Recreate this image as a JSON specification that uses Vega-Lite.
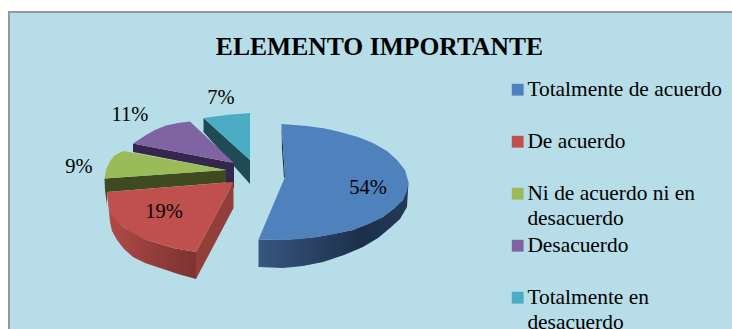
{
  "$schema": "https://vega.github.io/schema/vega-lite/v6.json",
  "width": 732,
  "height": 329,
  "padding": 0,
  "autosize": {"type": "none"},
  "background": "#ffffff",
  "view": {"stroke": null},
  "config": {"font": "Liberation Serif", "style": {"guide-label": {"lineHeight": 25}}},
  "datasets": {
    "panel": [{"x": 9, "x2": 760, "y": 12, "y2": 360}],
    "heading": [{"x": 379.5, "y": 47, "title": "ELEMENTO IMPORTANTE"}],
    "shares": [
      {"name": "Totalmente de acuerdo", "share": 0.54, "x": 368, "y": 188},
      {"name": "De acuerdo", "share": 0.19, "x": 164, "y": 212},
      {"name": "Ni de acuerdo ni en desacuerdo", "share": 0.09, "x": 79, "y": 167},
      {"name": "Desacuerdo", "share": 0.11, "x": 130, "y": 115},
      {"name": "Totalmente en desacuerdo", "share": 0.07, "x": 221, "y": 98}
    ],
    "tops": [
      {"name": "Totalmente de acuerdo", "i": 1, "x": 285, "y": 177},
      {"name": "Totalmente de acuerdo", "i": 2, "x": 281.5, "y": 124},
      {"name": "Totalmente de acuerdo", "i": 3, "x": 307, "y": 126},
      {"name": "Totalmente de acuerdo", "i": 4, "x": 325, "y": 128.5},
      {"name": "Totalmente de acuerdo", "i": 5, "x": 340, "y": 132},
      {"name": "Totalmente de acuerdo", "i": 6, "x": 358, "y": 137},
      {"name": "Totalmente de acuerdo", "i": 7, "x": 373, "y": 143},
      {"name": "Totalmente de acuerdo", "i": 8, "x": 387, "y": 151},
      {"name": "Totalmente de acuerdo", "i": 9, "x": 397, "y": 160},
      {"name": "Totalmente de acuerdo", "i": 10, "x": 405, "y": 170},
      {"name": "Totalmente de acuerdo", "i": 11, "x": 408.5, "y": 182},
      {"name": "Totalmente de acuerdo", "i": 12, "x": 407, "y": 191},
      {"name": "Totalmente de acuerdo", "i": 13, "x": 403, "y": 200},
      {"name": "Totalmente de acuerdo", "i": 14, "x": 394, "y": 209},
      {"name": "Totalmente de acuerdo", "i": 15, "x": 383, "y": 217},
      {"name": "Totalmente de acuerdo", "i": 16, "x": 369, "y": 224},
      {"name": "Totalmente de acuerdo", "i": 17, "x": 353, "y": 230},
      {"name": "Totalmente de acuerdo", "i": 18, "x": 335, "y": 234},
      {"name": "Totalmente de acuerdo", "i": 19, "x": 317, "y": 237},
      {"name": "Totalmente de acuerdo", "i": 20, "x": 300, "y": 239},
      {"name": "Totalmente de acuerdo", "i": 21, "x": 283, "y": 240},
      {"name": "Totalmente de acuerdo", "i": 22, "x": 258.5, "y": 239.5},
      {"name": "De acuerdo", "i": 1, "x": 233.5, "y": 182},
      {"name": "De acuerdo", "i": 2, "x": 107, "y": 192},
      {"name": "De acuerdo", "i": 3, "x": 108, "y": 202},
      {"name": "De acuerdo", "i": 4, "x": 110, "y": 212},
      {"name": "De acuerdo", "i": 5, "x": 116, "y": 220},
      {"name": "De acuerdo", "i": 6, "x": 123, "y": 227},
      {"name": "De acuerdo", "i": 7, "x": 134, "y": 234},
      {"name": "De acuerdo", "i": 8, "x": 147, "y": 240},
      {"name": "De acuerdo", "i": 9, "x": 160, "y": 244},
      {"name": "De acuerdo", "i": 10, "x": 173, "y": 248},
      {"name": "De acuerdo", "i": 11, "x": 196, "y": 252},
      {"name": "Ni de acuerdo ni en desacuerdo", "i": 1, "x": 226, "y": 170},
      {"name": "Ni de acuerdo ni en desacuerdo", "i": 2, "x": 123.5, "y": 151},
      {"name": "Ni de acuerdo ni en desacuerdo", "i": 3, "x": 115, "y": 155},
      {"name": "Ni de acuerdo ni en desacuerdo", "i": 4, "x": 110, "y": 161},
      {"name": "Ni de acuerdo ni en desacuerdo", "i": 5, "x": 106, "y": 170},
      {"name": "Ni de acuerdo ni en desacuerdo", "i": 6, "x": 104.5, "y": 178.5},
      {"name": "Desacuerdo", "i": 1, "x": 234, "y": 163},
      {"name": "Desacuerdo", "i": 2, "x": 190, "y": 121.5},
      {"name": "Desacuerdo", "i": 3, "x": 178, "y": 123},
      {"name": "Desacuerdo", "i": 4, "x": 166, "y": 125.5},
      {"name": "Desacuerdo", "i": 5, "x": 155, "y": 130},
      {"name": "Desacuerdo", "i": 6, "x": 146, "y": 135},
      {"name": "Desacuerdo", "i": 7, "x": 133, "y": 143.5},
      {"name": "Totalmente en desacuerdo", "i": 1, "x": 250, "y": 160},
      {"name": "Totalmente en desacuerdo", "i": 2, "x": 250, "y": 113},
      {"name": "Totalmente en desacuerdo", "i": 3, "x": 238, "y": 114},
      {"name": "Totalmente en desacuerdo", "i": 4, "x": 226, "y": 115},
      {"name": "Totalmente en desacuerdo", "i": 5, "x": 203.5, "y": 118}
    ],
    "walls": [
      {"wall": "cyan", "i": 1, "x": 203.5, "y": 118},
      {"wall": "cyan", "i": 2, "x": 250, "y": 160},
      {"wall": "cyan", "i": 3, "x": 250, "y": 184},
      {"wall": "cyan", "i": 4, "x": 203.5, "y": 132},
      {"wall": "purple", "i": 1, "x": 133, "y": 143.5},
      {"wall": "purple", "i": 2, "x": 234, "y": 163},
      {"wall": "purple", "i": 3, "x": 234, "y": 188},
      {"wall": "purple", "i": 4, "x": 226, "y": 184},
      {"wall": "purple", "i": 5, "x": 226, "y": 170},
      {"wall": "purple", "i": 6, "x": 133, "y": 152},
      {"wall": "green", "i": 1, "x": 104.5, "y": 178.5},
      {"wall": "green", "i": 2, "x": 226, "y": 170},
      {"wall": "green", "i": 3, "x": 226, "y": 182.5},
      {"wall": "green", "i": 4, "x": 107, "y": 192},
      {"wall": "green", "i": 5, "x": 107, "y": 205},
      {"wall": "green", "i": 6, "x": 105, "y": 190},
      {"wall": "redInner", "i": 1, "x": 196, "y": 252},
      {"wall": "redInner", "i": 2, "x": 233.5, "y": 182},
      {"wall": "redInner", "i": 3, "x": 233.5, "y": 208},
      {"wall": "redInner", "i": 4, "x": 196, "y": 279},
      {"wall": "red", "i": 1, "x": 107, "y": 192},
      {"wall": "red", "i": 2, "x": 110, "y": 212},
      {"wall": "red", "i": 3, "x": 123, "y": 227},
      {"wall": "red", "i": 4, "x": 147, "y": 240},
      {"wall": "red", "i": 5, "x": 173, "y": 248},
      {"wall": "red", "i": 6, "x": 196, "y": 252},
      {"wall": "red", "i": 7, "x": 196, "y": 279},
      {"wall": "red", "i": 8, "x": 178, "y": 274},
      {"wall": "red", "i": 9, "x": 160, "y": 268},
      {"wall": "red", "i": 10, "x": 145, "y": 263},
      {"wall": "red", "i": 11, "x": 133, "y": 257},
      {"wall": "red", "i": 12, "x": 124, "y": 249},
      {"wall": "red", "i": 13, "x": 117, "y": 240},
      {"wall": "red", "i": 14, "x": 112, "y": 231},
      {"wall": "red", "i": 15, "x": 110, "y": 222},
      {"wall": "blueInner", "i": 1, "x": 281.5, "y": 124},
      {"wall": "blueInner", "i": 2, "x": 285, "y": 177},
      {"wall": "blueInner", "i": 3, "x": 284, "y": 178},
      {"wall": "blueInner", "i": 4, "x": 282, "y": 150},
      {"wall": "blue", "i": 1, "x": 258.5, "y": 239.5},
      {"wall": "blue", "i": 2, "x": 283, "y": 240},
      {"wall": "blue", "i": 3, "x": 317, "y": 237},
      {"wall": "blue", "i": 4, "x": 353, "y": 230},
      {"wall": "blue", "i": 5, "x": 383, "y": 217},
      {"wall": "blue", "i": 6, "x": 403, "y": 200},
      {"wall": "blue", "i": 7, "x": 408.5, "y": 182},
      {"wall": "blue", "i": 8, "x": 407, "y": 207},
      {"wall": "blue", "i": 9, "x": 400, "y": 219},
      {"wall": "blue", "i": 10, "x": 390, "y": 228},
      {"wall": "blue", "i": 11, "x": 378, "y": 238},
      {"wall": "blue", "i": 12, "x": 363, "y": 247},
      {"wall": "blue", "i": 13, "x": 344, "y": 255},
      {"wall": "blue", "i": 14, "x": 323, "y": 262},
      {"wall": "blue", "i": 15, "x": 303, "y": 266},
      {"wall": "blue", "i": 16, "x": 283, "y": 268},
      {"wall": "blue", "i": 17, "x": 258.5, "y": 267}
    ]
  },
  "encoding": {
    "x": {"field": "x", "type": "quantitative", "axis": null, "scale": {"domain": [0, 732]}},
    "y": {"field": "y", "type": "quantitative", "axis": null, "scale": {"domain": [0, 329], "reverse": true}}
  },
  "layer": [
    {
      "data": {"name": "panel"},
      "mark": {"type": "rect", "fill": "#B7DDE8", "stroke": "#979797", "strokeWidth": 2},
      "encoding": {"x2": {"field": "x2"}, "y2": {"field": "y2"}}
    },
    {
      "data": {"name": "walls"},
      "transform": [{"filter": "datum.wall === 'cyan'"}],
      "mark": {"type": "line", "filled": true, "interpolate": "linear-closed", "fill": "#1F4A56", "strokeWidth": 0},
      "encoding": {"order": {"field": "i"}}
    },
    {
      "data": {"name": "walls"},
      "transform": [{"filter": "datum.wall === 'purple'"}],
      "mark": {"type": "line", "filled": true, "interpolate": "linear-closed", "fill": "#35264B", "strokeWidth": 0},
      "encoding": {"order": {"field": "i"}}
    },
    {
      "data": {"name": "walls"},
      "transform": [{"filter": "datum.wall === 'green'"}],
      "mark": {"type": "line", "filled": true, "interpolate": "linear-closed", "fill": "#404A20", "strokeWidth": 0},
      "encoding": {"order": {"field": "i"}}
    },
    {
      "data": {"name": "walls"},
      "transform": [{"filter": "datum.wall === 'redInner'"}],
      "mark": {"type": "line", "filled": true, "interpolate": "linear-closed", "fill": "#933E3B", "strokeWidth": 0},
      "encoding": {"order": {"field": "i"}}
    },
    {
      "data": {"name": "walls"},
      "transform": [{"filter": "datum.wall === 'red'"}],
      "mark": {
        "type": "line", "filled": true, "interpolate": "linear-closed", "strokeWidth": 0,
        "fill": {"gradient": "linear", "x1": 0, "y1": 0, "x2": 1, "y2": 0, "stops": [
          {"offset": 0, "color": "#B34A47"},
          {"offset": 0.5, "color": "#953E3B"},
          {"offset": 1, "color": "#7D3331"}
        ]}
      },
      "encoding": {"order": {"field": "i"}}
    },
    {
      "data": {"name": "walls"},
      "transform": [{"filter": "datum.wall === 'blueInner'"}],
      "mark": {"type": "line", "filled": true, "interpolate": "linear-closed", "fill": "#1E3350", "strokeWidth": 0},
      "encoding": {"order": {"field": "i"}}
    },
    {
      "data": {"name": "walls"},
      "transform": [{"filter": "datum.wall === 'blue'"}],
      "mark": {
        "type": "line", "filled": true, "interpolate": "linear-closed", "strokeWidth": 0,
        "fill": {"gradient": "linear", "x1": 0, "y1": 0, "x2": 1, "y2": 0, "stops": [
          {"offset": 0, "color": "#37577F"},
          {"offset": 0.35, "color": "#2A4265"},
          {"offset": 0.7, "color": "#1B2F4A"},
          {"offset": 1, "color": "#233A58"}
        ]}
      },
      "encoding": {"order": {"field": "i"}}
    },
    {
      "data": {"name": "tops"},
      "mark": {"type": "line", "filled": true, "interpolate": "linear-closed", "strokeWidth": 0},
      "encoding": {
        "order": {"field": "i"},
        "fill": {
          "field": "name",
          "type": "nominal",
          "scale": {
            "domain": ["Totalmente de acuerdo", "De acuerdo", "Ni de acuerdo ni en desacuerdo", "Desacuerdo", "Totalmente en desacuerdo"],
            "range": ["#4F81BD", "#C0504D", "#9BBB59", "#8064A2", "#4BACC6"]
          },
          "legend": {
            "orient": "none",
            "legendX": 507,
            "legendY": 79,
            "title": null,
            "symbolType": "square",
            "symbolSize": 140,
            "symbolStrokeWidth": 0,
            "symbolOpacity": 1,
            "labelFont": "Liberation Serif",
            "labelFontSize": 21.4,
            "labelColor": "#000000",
            "labelOffset": -1,
            "labelLimit": 260,
            "rowPadding": 4,
            "labelExpr": "datum.label === 'Ni de acuerdo ni en desacuerdo' ? ['Ni de acuerdo ni en', 'desacuerdo'] : datum.label === 'Totalmente en desacuerdo' ? ['Totalmente en', 'desacuerdo'] : [datum.label, ' ']"
          }
        }
      }
    },
    {
      "data": {"name": "shares"},
      "mark": {"type": "text", "font": "Liberation Serif", "fontSize": 20.5, "color": "#000000"},
      "encoding": {"text": {"field": "share", "type": "quantitative", "format": ".0%"}}
    },
    {
      "data": {"name": "heading"},
      "mark": {"type": "text", "font": "Liberation Serif", "fontSize": 25.6, "fontWeight": "bold", "color": "#000000"},
      "encoding": {"text": {"field": "title"}}
    }
  ]
}
